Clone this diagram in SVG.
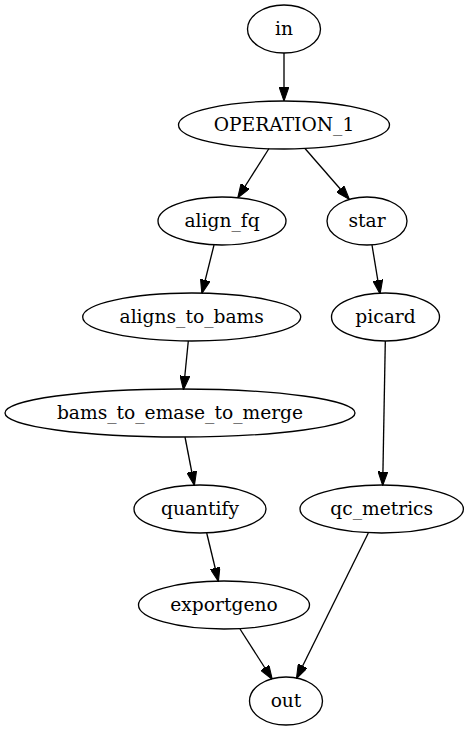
<svg xmlns="http://www.w3.org/2000/svg" width="469" height="731" viewBox="0 0 469 731">
<style>
.n ellipse{fill:none;stroke:#000;stroke-width:1.33}
.n text{font-family:"DejaVu Serif",serif;font-size:18.67px;text-anchor:middle;fill:#000}
.e line{stroke:#000;stroke-width:1.33;marker-end:url(#ah)}
</style>
<defs>
<marker id="ah" markerUnits="userSpaceOnUse" markerWidth="14" markerHeight="10" viewBox="0 0 13.33 9.33" refX="12.8" refY="4.67" orient="auto">
<path d="M0,0 L13.33,4.67 L0,9.33 z" fill="#000" stroke="#000" stroke-width="1"/>
</marker>
</defs>
<rect width="469" height="731" fill="#fff"/>
<g id="edges" class="e">
<line x1="284" y1="53" x2="284" y2="100.5"/>
<line x1="269" y1="148.5" x2="238" y2="197.5"/>
<line x1="305" y1="148.5" x2="349" y2="199"/>
<line x1="214" y1="245" x2="202" y2="293"/>
<line x1="372" y1="245" x2="380" y2="293.5"/>
<line x1="188.3" y1="341" x2="183.5" y2="389.3"/>
<line x1="385.3" y1="341" x2="382.7" y2="485"/>
<line x1="185" y1="437" x2="194.3" y2="485"/>
<line x1="206.7" y1="533" x2="218.3" y2="581"/>
<line x1="368.3" y1="533" x2="296.7" y2="678"/>
<line x1="240" y1="629" x2="272" y2="679"/>
</g>
<g id="in" class="n"><ellipse cx="284" cy="29" rx="36.5" ry="24"/><text x="284" y="35">in</text></g>
<g id="OPERATION_1" class="n"><ellipse cx="284" cy="125" rx="105.5" ry="24"/><text x="284" y="131">OPERATION_1</text></g>
<g id="align_fq" class="n"><ellipse cx="222" cy="221" rx="64" ry="24"/><text x="222" y="227">align_fq</text></g>
<g id="star" class="n"><ellipse cx="367" cy="221" rx="40" ry="24"/><text x="367" y="227">star</text></g>
<g id="aligns_to_bams" class="n"><ellipse cx="191.7" cy="317" rx="109" ry="24"/><text x="191.7" y="323">aligns_to_bams</text></g>
<g id="picard" class="n"><ellipse cx="385.5" cy="317" rx="54" ry="24"/><text x="385.5" y="323">picard</text></g>
<g id="bams_to_emase_to_merge" class="n"><ellipse cx="180" cy="413" rx="175" ry="24"/><text x="180" y="419">bams_to_emase_to_merge</text></g>
<g id="quantify" class="n"><ellipse cx="200" cy="509" rx="66" ry="24"/><text x="200" y="515">quantify</text></g>
<g id="qc_metrics" class="n"><ellipse cx="381.7" cy="509" rx="81.7" ry="24"/><text x="381.7" y="515">qc_metrics</text></g>
<g id="exportgeno" class="n"><ellipse cx="224" cy="605" rx="85.5" ry="24"/><text x="224" y="611">exportgeno</text></g>
<g id="out" class="n"><ellipse cx="286" cy="701" rx="36.5" ry="24"/><text x="286" y="707">out</text></g>
</svg>
